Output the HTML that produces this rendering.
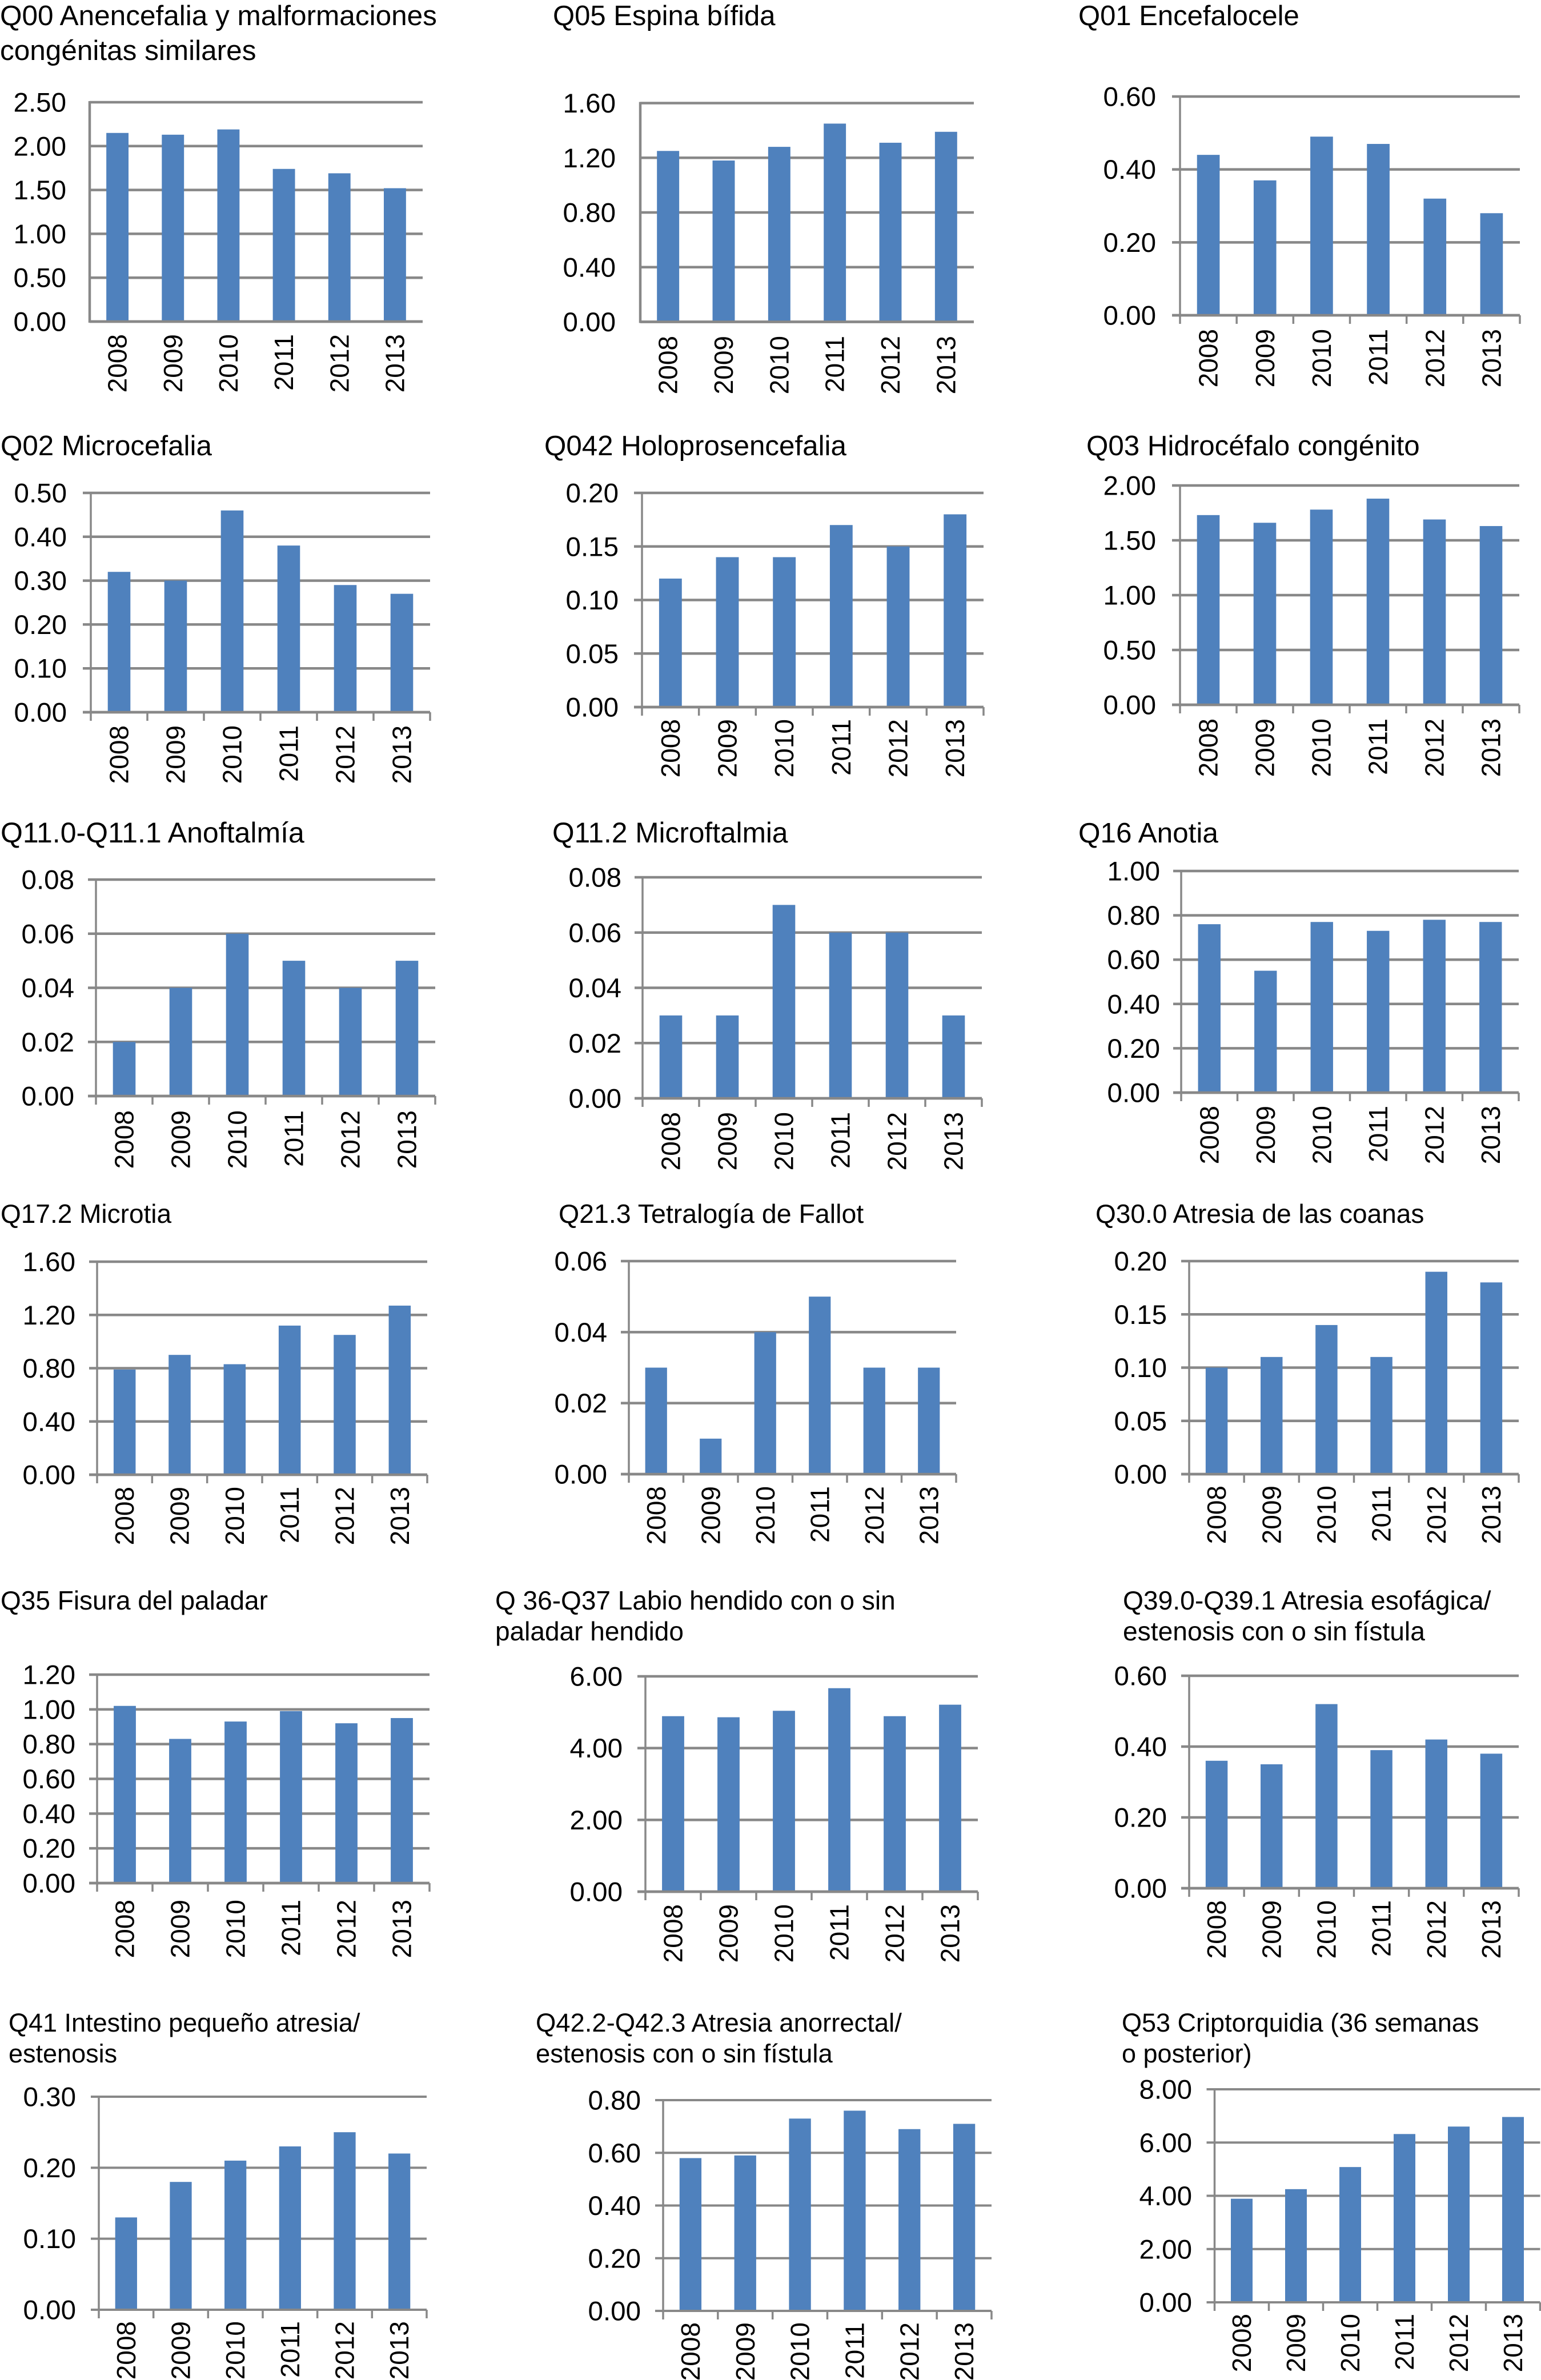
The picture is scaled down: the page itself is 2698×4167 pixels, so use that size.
<!DOCTYPE html>
<html lang="es">
<head>
<meta charset="utf-8">
<title>Anomalías congénitas 2008-2013</title>
<style>
html,body{margin:0;padding:0;background:#fff;width:2698px;height:4167px;overflow:hidden}
svg{display:block}
text{font-family:"Liberation Sans",sans-serif;fill:#000}
</style>
</head>
<body>
<svg id="figure" xmlns="http://www.w3.org/2000/svg" width="2698" height="4167" viewBox="0 0 2698 4167">
<rect x="0" y="0" width="2698" height="4167" fill="#fff"/>
<g>
<text x="0" y="44" font-size="49.5">Q00 Anencefalia y malformaciones</text>
<text x="0" y="105" font-size="49.5">congénitas similares</text>
<text x="968" y="44" font-size="49">Q05 Espina bífida</text>
<text x="1888" y="44" font-size="49">Q01 Encefalocele</text>
<text x="1" y="797" font-size="49.3">Q02 Microcefalia</text>
<text x="953" y="797" font-size="49.3">Q042 Holoprosencefalia</text>
<text x="1902" y="797" font-size="49.3">Q03 Hidrocéfalo congénito</text>
<text x="1" y="1475" font-size="50">Q11.0-Q11.1 Anoftalmía</text>
<text x="967" y="1475" font-size="49.6">Q11.2 Microftalmia</text>
<text x="1888" y="1475" font-size="49.5">Q16 Anotia</text>
<text x="1" y="2141" font-size="46">Q17.2 Microtia</text>
<text x="978" y="2141" font-size="46.5">Q21.3 Tetralogía de Fallot</text>
<text x="1918" y="2141" font-size="46">Q30.0 Atresia de las coanas</text>
<text x="1" y="2818" font-size="46">Q35 Fisura del paladar</text>
<text x="867" y="2818" font-size="46">Q 36-Q37 Labio hendido con o sin</text>
<text x="867" y="2872" font-size="46">paladar hendido</text>
<text x="1966" y="2818" font-size="46.2">Q39.0-Q39.1 Atresia esofágica/</text>
<text x="1966" y="2872" font-size="46.2">estenosis con o sin fístula</text>
<text x="15" y="3557" font-size="45">Q41 Intestino pequeño atresia/</text>
<text x="15" y="3611" font-size="45">estenosis</text>
<text x="938" y="3557" font-size="45.4">Q42.2-Q42.3 Atresia anorrectal/</text>
<text x="938" y="3611" font-size="45.4">estenosis con o sin fístula</text>
<text x="1964" y="3557" font-size="45">Q53 Criptorquidia (36 semanas</text>
<text x="1964" y="3611" font-size="45">o posterior)</text>
</g>
</svg>
<script>
const years = ['2008', '2009', '2010', '2011', '2012', '2013'];

const q00Values = [2.15, 2.13, 2.19, 1.74, 1.69, 1.52];
const q00Ticks = ['0.00', '0.50', '1.00', '1.50', '2.00', '2.50'];
const q05Values = [1.25, 1.18, 1.28, 1.45, 1.31, 1.39];
const q05Ticks = ['0.00', '0.40', '0.80', '1.20', '1.60'];
const q01Values = [0.44, 0.37, 0.49, 0.47, 0.32, 0.28];
const q01Ticks = ['0.00', '0.20', '0.40', '0.60'];
const q02Values = [0.32, 0.30, 0.46, 0.38, 0.29, 0.27];
const q02Ticks = ['0.00', '0.10', '0.20', '0.30', '0.40', '0.50'];
const q042Values = [0.12, 0.14, 0.14, 0.17, 0.15, 0.18];
const q042Ticks = ['0.00', '0.05', '0.10', '0.15', '0.20'];
const q03Values = [1.73, 1.66, 1.78, 1.88, 1.69, 1.63];
const q03Ticks = ['0.00', '0.50', '1.00', '1.50', '2.00'];
const q110Values = [0.02, 0.04, 0.06, 0.05, 0.04, 0.05];
const q110Ticks = ['0.00', '0.02', '0.04', '0.06', '0.08'];
const q112Values = [0.03, 0.03, 0.07, 0.06, 0.06, 0.03];
const q112Ticks = ['0.00', '0.02', '0.04', '0.06', '0.08'];
const q16Values = [0.76, 0.55, 0.77, 0.73, 0.78, 0.77];
const q16Ticks = ['0.00', '0.20', '0.40', '0.60', '0.80', '1.00'];
const q172Values = [0.79, 0.90, 0.83, 1.12, 1.05, 1.27];
const q172Ticks = ['0.00', '0.40', '0.80', '1.20', '1.60'];
const q213Values = [0.03, 0.01, 0.04, 0.05, 0.03, 0.03];
const q213Ticks = ['0.00', '0.02', '0.04', '0.06'];
const q300Values = [0.10, 0.11, 0.14, 0.11, 0.19, 0.18];
const q300Ticks = ['0.00', '0.05', '0.10', '0.15', '0.20'];
const q35Values = [1.02, 0.83, 0.93, 0.99, 0.92, 0.95];
const q35Ticks = ['0.00', '0.20', '0.40', '0.60', '0.80', '1.00', '1.20'];
const q36Values = [4.89, 4.86, 5.04, 5.67, 4.89, 5.21];
const q36Ticks = ['0.00', '2.00', '4.00', '6.00'];
const q39Values = [0.36, 0.35, 0.52, 0.39, 0.42, 0.38];
const q39Ticks = ['0.00', '0.20', '0.40', '0.60'];
const q41Values = [0.13, 0.18, 0.21, 0.23, 0.25, 0.22];
const q41Ticks = ['0.00', '0.10', '0.20', '0.30'];
const q42Values = [0.58, 0.59, 0.73, 0.76, 0.69, 0.71];
const q42Ticks = ['0.00', '0.20', '0.40', '0.60', '0.80'];
const q53Values = [3.89, 4.25, 5.08, 6.32, 6.60, 6.96];
const q53Ticks = ['0.00', '2.00', '4.00', '6.00', '8.00'];

const SVG_NS = 'http://www.w3.org/2000/svg';
const figure = document.getElementById('figure');

function linearScale(domainMax, pixelBottom, pixelTop) {
  return function (v) {
    return pixelBottom - (v / domainMax) * (pixelBottom - pixelTop);
  };
}

function makeLine(parent, x1, y1, x2, y2, width) {
  const line = document.createElementNS(SVG_NS, 'line');
  line.setAttribute('x1', x1);
  line.setAttribute('y1', y1);
  line.setAttribute('x2', x2);
  line.setAttribute('y2', y2);
  line.setAttribute('stroke', '#888888');
  line.setAttribute('stroke-width', width);
  parent.appendChild(line);
  return line;
}

function drawPanel(key, values, ticks, box) {
  const group = document.createElementNS(SVG_NS, 'g');
  
  
  figure.appendChild(group);

  const yMax = parseFloat(ticks[ticks.length - 1]);
  const y = linearScale(yMax, box.bottom, box.top);
  const step = (box.right - box.left) / years.length;
  const bandCenter = function (i) { return box.left + (i + 0.5) * step; };
  const barWidth = step * 0.4;
  const gridStart = box.ticks ? box.left - 14 : box.left;
  const gridWeight = box.grid || 4.5;
  const axisWeight = box.ticks ? 3.5 : 4.5;

  ticks.forEach(function (label) {
    const v = parseFloat(label);
    const gridline = makeLine(group, gridStart, y(v), box.right, y(v), gridWeight);
    
    
    const tickText = document.createElementNS(SVG_NS, 'text');
    
    
    tickText.setAttribute('x', box.labelRight + 1);
    tickText.setAttribute('y', y(v) + 16.5);
    tickText.setAttribute('text-anchor', 'end');
    tickText.setAttribute('font-size', '47.5');
    tickText.textContent = label;
    group.appendChild(tickText);
  });

  const yAxis = makeLine(group, box.left, box.top - 2, box.left, box.bottom + (box.ticks ? 15 : 2), axisWeight);
  
  

  values.forEach(function (v, i) {
    const bar = document.createElementNS(SVG_NS, 'rect');
    
    
    bar.setAttribute('x', bandCenter(i) - barWidth / 2);
    bar.setAttribute('y', y(v));
    bar.setAttribute('width', barWidth);
    bar.setAttribute('height', box.bottom - y(v));
    bar.setAttribute('fill', '#4F81BD');
    group.appendChild(bar);
  });

  const xAxis = makeLine(group, gridStart, box.bottom, box.right, box.bottom, gridWeight);
  
  

  if (box.ticks) {
    for (let i = 1; i <= years.length; i++) {
      const tick = makeLine(group, box.left + i * step, box.bottom, box.left + i * step, box.bottom + 15, axisWeight);
      
      
    }
  }

  years.forEach(function (year, i) {
    const yearText = document.createElementNS(SVG_NS, 'text');
    
    
    const bx = bandCenter(i) + 16;
    yearText.setAttribute('transform', 'translate(' + bx + ',' + box.yearTop + ') rotate(-90)');
    yearText.setAttribute('text-anchor', 'end');
    yearText.setAttribute('font-size', '46');
    yearText.textContent = year;
    group.appendChild(yearText);
  });
}

drawPanel('q00', q00Values, q00Ticks, {left: 157, right: 740, top: 179, bottom: 563, labelRight: 115, yearTop: 585, ticks: false});
drawPanel('q05', q05Values, q05Ticks, {left: 1121, right: 1705, top: 180.5, bottom: 563.5, labelRight: 1077, yearTop: 588, ticks: false});
drawPanel('q01', q01Values, q01Ticks, {left: 2066, right: 2661, top: 169, bottom: 552, labelRight: 2023, yearTop: 576, ticks: true});
drawPanel('q02', q02Values, q02Ticks, {left: 159, right: 753, top: 863, bottom: 1247, labelRight: 116, yearTop: 1270, ticks: true});
drawPanel('q042', q042Values, q042Ticks, {left: 1124, right: 1722, top: 863, bottom: 1238, labelRight: 1082, yearTop: 1259, ticks: true});
drawPanel('q03', q03Values, q03Ticks, {left: 2066, right: 2660, top: 850, bottom: 1234, labelRight: 2023, yearTop: 1258, ticks: true});
drawPanel('q110', q110Values, q110Ticks, {left: 168, right: 762, top: 1540, bottom: 1919, labelRight: 129, yearTop: 1944, ticks: true});
drawPanel('q112', q112Values, q112Ticks, {left: 1125, right: 1719, top: 1536, bottom: 1923, labelRight: 1087, yearTop: 1947, ticks: true});
drawPanel('q16', q16Values, q16Ticks, {left: 2068, right: 2659, top: 1525, bottom: 1913, labelRight: 2030, yearTop: 1936, ticks: true});
drawPanel('q172', q172Values, q172Ticks, {left: 170, right: 748, top: 2209, bottom: 2582, labelRight: 131, yearTop: 2603, ticks: true});
drawPanel('q213', q213Values, q213Ticks, {left: 1101, right: 1674, top: 2208, bottom: 2581, labelRight: 1062, yearTop: 2602, ticks: true});
drawPanel('q300', q300Values, q300Ticks, {left: 2082, right: 2659, top: 2208, bottom: 2581, labelRight: 2042, yearTop: 2601, ticks: true});
drawPanel('q35', q35Values, q35Ticks, {left: 170, right: 752, top: 2932, bottom: 3297, labelRight: 131, yearTop: 3326, ticks: true});
drawPanel('q36', q36Values, q36Ticks, {left: 1130, right: 1712, top: 2935, bottom: 3312, labelRight: 1089, yearTop: 3334, ticks: true});
drawPanel('q39', q39Values, q39Ticks, {left: 2082, right: 2659, top: 2934, bottom: 3306, labelRight: 2042, yearTop: 3327, ticks: true});
drawPanel('q41', q41Values, q41Ticks, {left: 173, right: 747, top: 3671, bottom: 4044, labelRight: 132, yearTop: 4064, grid: 4, ticks: true});
drawPanel('q42', q42Values, q42Ticks, {left: 1161, right: 1736, top: 3677, bottom: 4046, labelRight: 1121, yearTop: 4066, grid: 4, ticks: true});
drawPanel('q53', q53Values, q53Ticks, {left: 2126.5, right: 2696.5, top: 3658, bottom: 4031, labelRight: 2086, yearTop: 4051, grid: 4, ticks: true});
</script>
</body>
</html>
